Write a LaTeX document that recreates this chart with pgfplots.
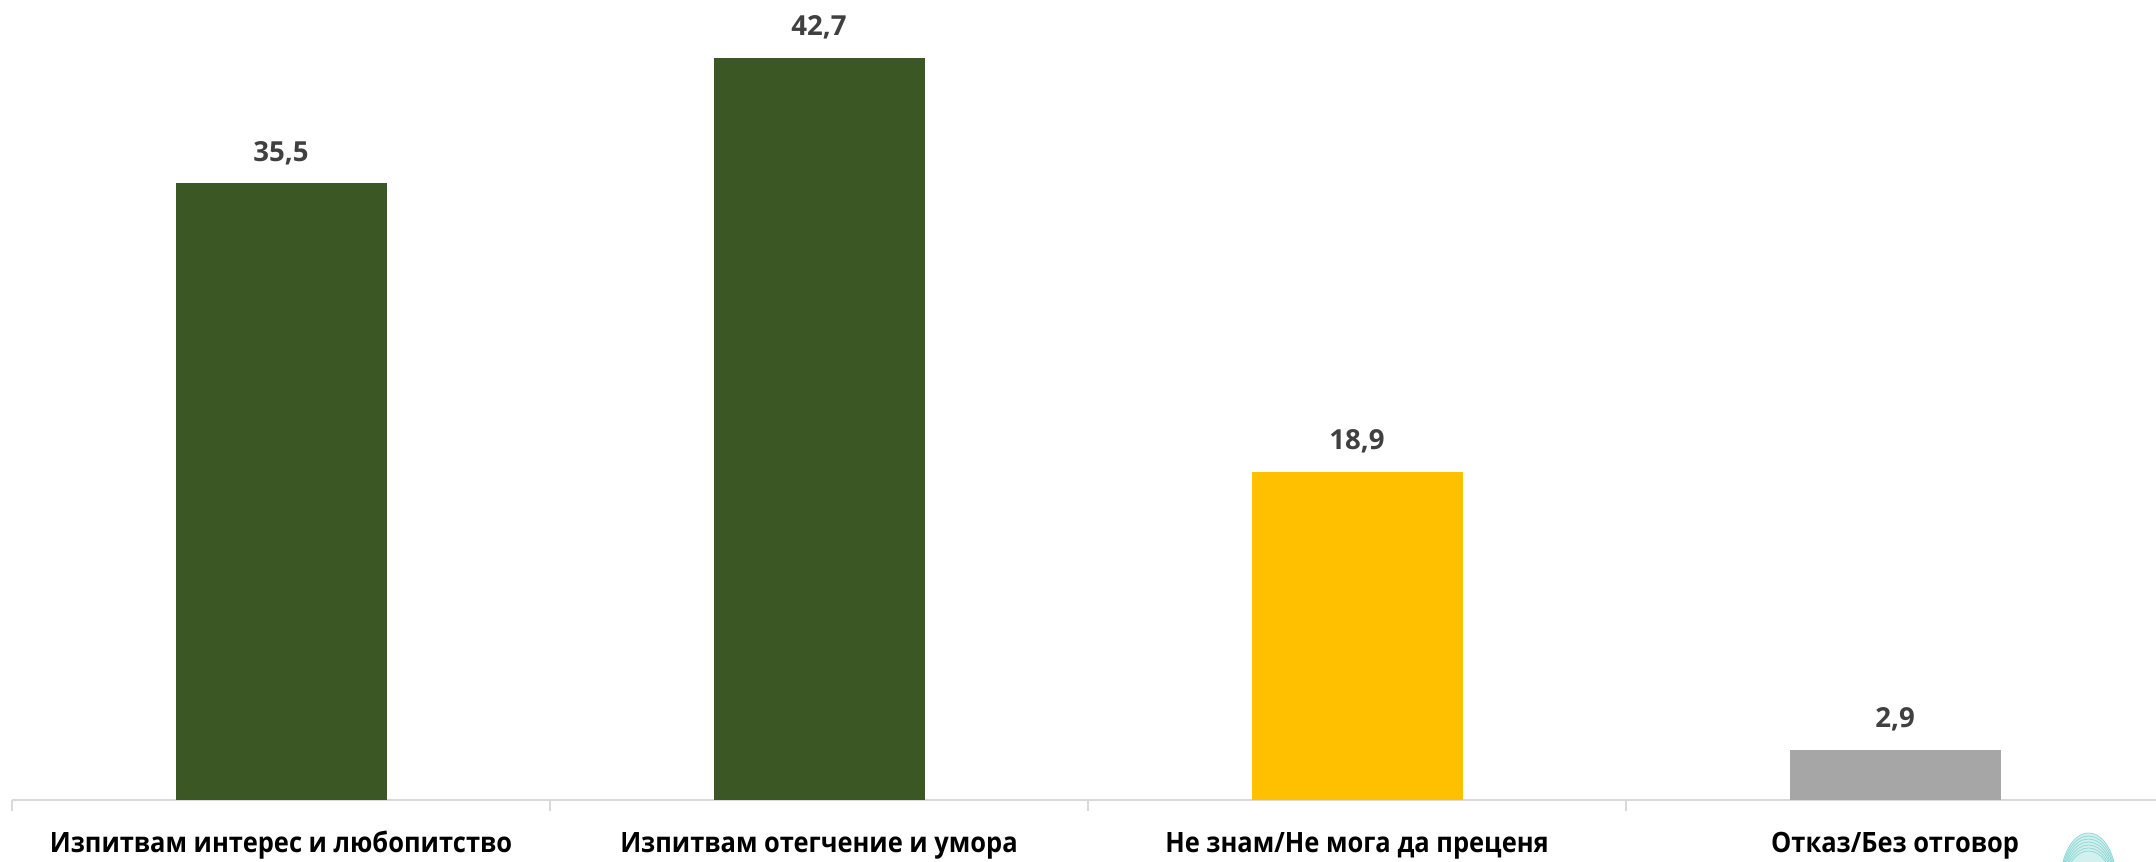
\documentclass[border=0pt]{standalone}
\usepackage{pgfplots}
\pgfplotsset{compat=1.18}
\usetikzlibrary{calc}
\usepackage{fontspec}
\setmainfont{Open Sans}[FakeStretch=0.91]
\newfontfamily\valfont{Open Sans}
\definecolor{barGreen}{HTML}{3B5724}
\definecolor{barYellow}{HTML}{FFC000}
\definecolor{barGray}{HTML}{A6A6A6}
\definecolor{valText}{HTML}{404040}
\definecolor{axisGray}{HTML}{D9D9D9}
\definecolor{logoTeal}{HTML}{7FD3CF}

% 1 px of the reference = 0.5pt
\begin{document}
\begin{tikzpicture}
\begin{axis}[
  name=ax,
  scale only axis,
  width=1072pt, height=391pt,
  xmin=-0.5, xmax=3.485,
  ymin=0, ymax=45,
  axis x line*=bottom,
  axis y line=none,
  x axis line style={axisGray, line width=1.2pt},
  xtick={0,1,2,3},
  xticklabels={Изпитвам интерес и любопитство, Изпитвам отегчение и умора, Не знам/Не мога да преценя, Отказ/Без отговор},
  major x tick style={draw=none},
  minor xtick={-0.5,0.5,1.5,2.5},
  minor x tick style={axisGray, line width=1.2pt},
  minor tick length=5.5pt,
  xtick align=outside,
  xticklabel style={font=\fontsize{14}{16}\selectfont\bfseries, anchor=base, yshift=-22pt, text=black},
  ybar, bar width=105.5pt,
  nodes near coords,
  nodes near coords style={font=\valfont\fontsize{13.8}{15}\selectfont\bfseries, text=valText, anchor=base, yshift=11pt,
    /pgf/number format/.cd, use comma, fixed, fixed zerofill, precision=1, assume math mode=true},
  every axis plot/.append style={bar shift=0pt, draw=none},
  clip=false,
]
\addplot[fill=barGreen] coordinates {(0,35.5)};
\addplot[fill=barGreen] coordinates {(1,42.7)};
\addplot[fill=barYellow] coordinates {(2,18.9)};
\addplot[fill=barGray] coordinates {(3,2.9)};
\end{axis}
% partial logo, clipped by the page edge
\begin{scope}
\clip ($(ax.south east)+(-70pt,-31pt)$) rectangle ($(ax.south east)+(0pt,-10pt)$);
\fill[logoTeal, opacity=0.35] ($(ax.south east)+(-33.75pt,-41pt)$) ellipse (14pt and 24.5pt);
\foreach \r in {0,1.5,...,9}
  \draw[logoTeal, line width=0.4pt, opacity=0.8]
    ($(ax.south east)+(-33.75pt,-41pt)$) ellipse ({14pt-\r*0.3pt} and {24.5pt-\r pt});
\end{scope}
\pgfresetboundingbox
\path[use as bounding box] ($(ax.south west)+(-6pt,-31pt)$) rectangle ($(ax.north east)+(0pt,9pt)$);
\end{tikzpicture}
\end{document}
